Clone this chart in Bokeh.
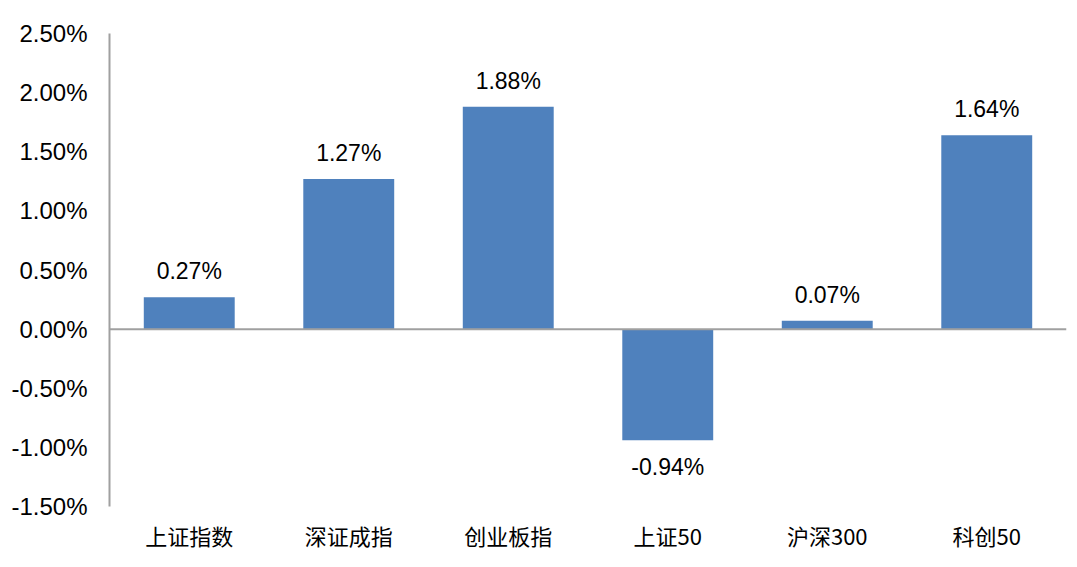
from bokeh.plotting import figure
from bokeh.models import ColumnDataSource, Range1d, FactorRange, Span, PrintfTickFormatter, FixedTicker, LabelSet
from bokeh.core.properties import value
from bokeh.embed import file_html
from bokeh.resources import INLINE

categories = ["上证指数", "深证成指", "创业板指", "上证50", "沪深300", "科创50"]
values = [0.27, 1.27, 1.88, -0.94, 0.07, 1.64]
labels = ["0.27%", "1.27%", "1.88%", "-0.94%", "0.07%", "1.64%"]
y_ticks = [-1.5, -1.0, -0.5, 0.0, 0.5, 1.0, 1.5, 2.0, 2.5]

src_pos = ColumnDataSource(dict(x=[c for c, v in zip(categories, values) if v >= 0],
                                y=[v for v in values if v >= 0],
                                t=[l for l, v in zip(labels, values) if v >= 0]))
src_neg = ColumnDataSource(dict(x=[c for c, v in zip(categories, values) if v < 0],
                                y=[v for v in values if v < 0],
                                t=[l for l, v in zip(labels, values) if v < 0]))
src = ColumnDataSource(dict(x=categories, top=values))

p = figure(width=1069, height=559, x_range=FactorRange(*categories, range_padding=0),
           y_range=Range1d(-1.5, 2.5), output_backend="svg", toolbar_location=None,
           min_border_left=109, min_border_right=3, min_border_top=33, min_border_bottom=53)
p.outline_line_color = None
p.grid.grid_line_color = None

p.vbar(x="x", top="top", bottom=0, width=0.57, source=src, fill_color="#4F81BD", line_color=None)

p.add_layout(Span(location=0, dimension="width", line_color="#A0A0A0", line_width=2))

p.add_layout(LabelSet(x="x", y="y", text="t", source=src_pos, text_align="center",
                      text_baseline="bottom", y_offset=13, text_font=value("Liberation Sans"),
                      text_font_size="23px", text_color="#000000"))
p.add_layout(LabelSet(x="x", y="y", text="t", source=src_neg, text_align="center",
                      text_baseline="top", y_offset=-14, text_font=value("Liberation Sans"),
                      text_font_size="23px", text_color="#000000"))

p.yaxis.ticker = FixedTicker(ticks=y_ticks)
p.yaxis.formatter = PrintfTickFormatter(format="%.2f%%")
p.yaxis.major_tick_line_color = None
p.yaxis.minor_tick_line_color = None
p.yaxis.axis_line_color = "#A0A0A0"
p.yaxis.axis_line_width = 2
p.yaxis.major_label_standoff = 16
p.yaxis.major_label_text_font = "Liberation Sans"
p.yaxis.major_label_text_font_size = "24px"
p.yaxis.major_label_text_color = "#000000"

p.xaxis.axis_line_color = None
p.xaxis.major_tick_line_color = None
p.xaxis.minor_tick_line_color = None
p.xaxis.major_label_standoff = 6
p.xaxis.major_label_text_font = "Noto Sans CJK SC"
p.xaxis.major_label_text_font_size = "22px"
p.xaxis.major_label_text_color = "#000000"

open("out.html", "w").write(file_html(p, INLINE))
